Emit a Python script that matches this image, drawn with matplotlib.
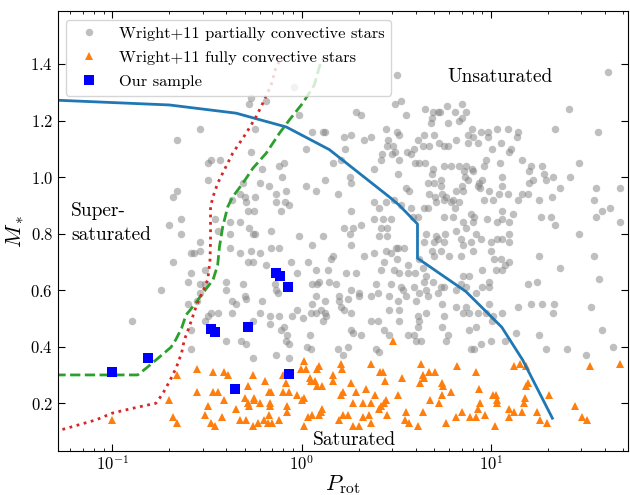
import matplotlib
matplotlib.use('Agg')
import matplotlib.pyplot as plt

plt.rcParams['font.family'] = 'serif'
plt.rcParams['font.serif'] = ['cmr10']
plt.rcParams['mathtext.fontset'] = 'cm'
plt.rcParams['axes.formatter.use_mathtext'] = True
plt.rcParams['axes.unicode_minus'] = False

# Wright+11 partially convective stars (P_rot [d], M_* [Msun])
partial_P = [
    0.915, 0.54, 0.53, 0.65, 0.97, 1.14, 1.05, 0.29, 0.22, 0.54, 0.57, 0.32, 0.33, 0.37, 0.32,
    0.62, 0.76, 0.81, 0.79, 0.49, 0.60, 0.67, 1.05, 1.19, 0.22, 0.21, 0.47, 0.50, 0.57, 0.73,
    0.83, 0.43, 0.51, 0.73, 0.82, 0.86, 0.52, 0.56, 0.78, 0.23, 0.23, 0.20, 0.35, 0.36, 0.42,
    0.47, 0.53, 0.57, 0.55, 0.69, 0.97, 0.42, 0.42, 0.29, 1.14, 0.69, 0.76,
    0.26, 0.27, 0.29, 0.21, 0.26, 0.25, 0.31, 0.29, 0.31, 0.18, 0.29, 0.25, 0.28, 0.127, 0.31,
    0.32, 0.33, 0.36, 0.26, 0.26, 0.40, 0.48, 0.51, 0.55, 0.40, 0.40, 0.43, 0.45, 0.50, 0.51,
    0.49, 0.47, 0.54, 0.60, 0.52, 0.55, 0.65, 0.88, 0.95, 0.72, 0.73, 0.75, 0.86, 0.62, 0.43,
    0.60, 0.68, 0.76, 0.68, 0.55, 0.89, 0.95, 1.02, 1.12, 0.78, 0.81, 0.84, 0.83, 0.86, 1.07,
    0.73, 0.86, 1.14, 1.20, 1.19, 1.08,
    3.17, 41.7, 1.94, 2.06, 3.12, 3.34, 3.55, 4.50, 4.95, 5.23, 5.40, 4.87, 5.85, 6.43, 7.04,
    7.39, 7.04, 6.81, 5.90, 4.80, 25.7, 21.9, 36.8, 13.9, 13.8, 12.3, 10.8, 9.6, 9.7, 8.85,
    7.90, 7.6, 8.0, 7.6, 8.5, 10.1, 11.3, 12.7, 12.5, 1.29, 1.32, 1.67, 1.82, 2.14, 2.33,
    2.79, 2.85, 2.81, 3.17, 3.28, 3.02, 2.66, 2.63, 3.0, 3.12, 3.58, 3.78, 3.94, 4.1, 4.35,
    4.45, 4.68, 5.02, 5.34, 5.67, 5.90, 6.52, 1.70, 1.47, 1.61, 3.28, 2.42, 3.99, 4.18, 4.5,
    4.95, 4.87, 5.67, 6.15, 6.81, 7.39, 7.9, 7.23, 8.0, 9.2, 9.4, 11.1, 14.6, 16.3, 18.6,
    15.9, 19.1, 21.2, 29.0, 1.79, 1.82, 1.32, 3.21, 4.62, 5.02, 5.45, 7.33, 7.6, 8.68, 9.0,
    11.4, 15.8, 16.6, 19.6, 26.1, 1.55, 3.55, 3.7, 5.45, 5.51, 4.72, 5.08, 5.82, 6.27, 6.52,
    7.04, 7.15, 8.5, 8.75, 9.8, 11.07, 12.3, 9.22, 10.2, 11.4, 13.9, 14.6, 15.6, 18.0, 23.2,
    21.0, 35.7, 35.1, 38.5, 42.4, 36.0, 47.9, 47.9, 2.42, 2.57, 2.79, 1.82, 2.42, 2.68, 2.96,
    3.09, 3.35, 3.78, 3.85, 4.14, 4.62, 4.45, 5.12, 5.67, 6.15, 6.45, 6.81, 5.67, 6.27, 7.09,
    7.82, 8.17, 9.57, 10.7, 11.5, 12.5, 11.5, 13.0, 18.4, 20.7, 21.8, 1.68, 1.86, 2.06, 2.63,
    2.84, 2.81, 1.29, 1.79, 2.57, 3.15, 4.55, 5.12, 5.23, 5.74, 6.52, 7.39, 8.0, 6.95, 8.33,
    8.87, 9.99, 10.8, 11.5, 12.5, 12.4, 29.0,
    1.82, 1.46, 1.43, 2.14, 2.42, 2.79, 2.73, 2.96, 3.21, 3.17, 3.49, 4.45, 5.02, 5.67, 4.87,
    5.02, 6.03, 3.63, 4.18, 4.40, 5.45, 6.95, 7.09, 7.82, 8.06, 10.0, 10.4, 11.3, 11.8, 12.4,
    11.5, 9.0, 18.0, 35.1, 23.2, 1.19, 1.37, 1.71, 1.94, 2.63, 3.09, 3.28, 3.63, 3.99, 4.55,
    4.45, 4.91, 7.09, 7.69, 6.95, 10.6, 1.24, 1.40, 1.52, 1.82, 2.02, 2.47, 2.96, 3.35, 3.94,
    4.18, 4.55, 5.45, 5.67, 6.52, 7.39, 8.33, 9.0, 9.8, 9.8, 15.6, 17.6, 37.3, 1.32, 1.14,
    1.58, 1.58, 1.75, 2.02, 2.33, 2.52, 2.90, 3.21, 3.41, 3.55, 4.02, 4.62, 5.23, 5.54, 6.52,
    7.39, 7.09, 7.69, 9.8, 9.4, 8.5, 13.9, 16.3, 18.6, 21.6, 21.3, 33.8, 1.19, 1.27, 1.32,
    1.35, 1.29, 1.61, 1.68, 1.82, 2.33, 2.52, 2.73, 2.90, 3.28, 3.28, 4.10, 4.18, 4.10, 4.55,
    5.67, 5.54, 5.90, 7.69, 8.33, 10.2, 11.5, 11.8, 13.6, 10.0, 10.1, 18.0, 38.7, 1.82, 1.86,
    2.06, 2.90, 3.63, 3.94, 1.10, 1.12, 1.55, 1.75, 1.65, 2.47, 2.57, 4.02, 4.27, 5.78, 7.82,
    8.17, 8.87, 19.6, 25.1, 31.6, 44.3,
]
partial_M = [
    1.32, 1.28, 1.26, 1.27, 1.22, 1.16, 1.10, 1.17, 1.13, 1.09, 1.17, 1.05, 1.06, 1.06, 0.99,
    1.03, 1.04, 1.05, 1.00, 0.98, 0.98, 0.97, 0.97, 0.95, 0.95, 0.93, 0.94, 0.93, 0.93, 0.94,
    0.95, 0.92, 0.91, 0.91, 0.91, 0.90, 0.88, 0.88, 0.88, 0.85, 0.80, 0.83, 0.85, 0.81, 0.84,
    0.84, 0.82, 0.80, 0.80, 0.81, 0.79, 0.80, 0.75, 0.77, 0.76, 0.75, 0.75,
    0.73, 0.73, 0.74, 0.70, 0.66, 0.63, 0.67, 0.62, 0.62, 0.60, 0.59, 0.55, 0.56, 0.49, 0.49,
    0.51, 0.52, 0.52, 0.46, 0.39, 0.42, 0.42, 0.41, 0.36, 0.63, 0.60, 0.56, 0.55, 0.58, 0.57,
    0.62, 0.73, 0.74, 0.73, 0.70, 0.70, 0.69, 0.70, 0.66, 0.62, 0.60, 0.59, 0.61, 0.56, 0.52,
    0.52, 0.51, 0.51, 0.48, 0.49, 0.51, 0.53, 0.50, 0.52, 0.46, 0.47, 0.44, 0.42, 0.41, 0.40,
    0.37, 0.36, 0.62, 0.62, 0.58, 0.70,
    1.36, 1.37, 1.23, 1.22, 1.26, 1.27, 1.22, 1.24, 1.23, 1.23, 1.23, 1.21, 1.25, 1.23, 1.26,
    1.23, 1.21, 1.20, 1.19, 1.19, 1.24, 1.17, 1.16, 1.16, 1.14, 1.17, 1.17, 1.16, 1.14, 1.16,
    1.17, 1.15, 1.14, 1.12, 1.12, 1.10, 1.12, 1.10, 1.09, 1.16, 1.16, 1.14, 1.15, 1.13, 1.14,
    1.17, 1.13, 1.11, 1.16, 1.15, 1.11, 1.08, 1.06, 1.08, 1.09, 1.09, 1.08, 1.10, 1.13, 1.11,
    1.15, 1.11, 1.15, 1.12, 1.11, 1.11, 1.13, 1.10, 1.05, 1.06, 1.06, 1.03, 1.05, 1.05, 1.05,
    1.03, 1.01, 1.04, 1.04, 1.04, 1.04, 1.03, 1.02, 1.02, 1.04, 1.06, 1.05, 1.06, 1.04, 1.04,
    1.02, 1.01, 1.00, 1.05, 1.00, 0.98, 0.99, 1.01, 0.98, 0.98, 0.99, 1.00, 0.99, 0.98, 0.99,
    1.00, 0.98, 0.99, 0.99, 1.00, 0.94, 0.96, 0.95, 0.97, 0.94, 0.94, 0.93, 0.93, 0.92, 0.95,
    0.97, 0.95, 0.97, 0.96, 0.95, 0.94, 0.94, 0.92, 0.92, 0.97, 0.92, 0.94, 0.94, 0.92, 0.96,
    0.93, 0.96, 0.92, 0.88, 0.89, 0.86, 0.96, 0.84, 0.91, 0.89, 0.91, 0.88, 0.85, 0.85, 0.85,
    0.92, 0.90, 0.89, 0.86, 0.86, 0.89, 0.89, 0.91, 0.92, 0.91, 0.89, 0.91, 0.86, 0.86, 0.84,
    0.87, 0.86, 0.85, 0.84, 0.85, 0.84, 0.88, 0.87, 0.86, 0.86, 0.83, 0.82, 0.82, 0.83, 0.82,
    0.82, 0.79, 0.79, 0.80, 0.79, 0.75, 0.80, 0.79, 0.78, 0.80, 0.81, 0.82, 0.84, 0.78, 0.80,
    0.78, 0.77, 0.78, 0.78, 0.77, 0.80, 0.80,
    0.76, 0.72, 0.71, 0.72, 0.73, 0.74, 0.70, 0.73, 0.75, 0.71, 0.75, 0.77, 0.77, 0.77, 0.74,
    0.72, 0.72, 0.69, 0.71, 0.68, 0.74, 0.72, 0.76, 0.77, 0.74, 0.74, 0.71, 0.71, 0.69, 0.70,
    0.67, 0.67, 0.72, 0.72, 0.68, 0.67, 0.67, 0.66, 0.66, 0.67, 0.67, 0.66, 0.66, 0.66, 0.65,
    0.63, 0.63, 0.65, 0.65, 0.62, 0.67, 0.63, 0.63, 0.62, 0.60, 0.59, 0.62, 0.62, 0.61, 0.61,
    0.59, 0.60, 0.61, 0.61, 0.60, 0.61, 0.59, 0.61, 0.63, 0.61, 0.62, 0.63, 0.64, 0.56, 0.55,
    0.58, 0.56, 0.57, 0.58, 0.58, 0.59, 0.58, 0.56, 0.60, 0.58, 0.56, 0.58, 0.59, 0.55, 0.54,
    0.54, 0.52, 0.52, 0.55, 0.52, 0.52, 0.54, 0.55, 0.55, 0.55, 0.52, 0.54, 0.52, 0.53, 0.52,
    0.51, 0.49, 0.54, 0.53, 0.52, 0.49, 0.49, 0.46, 0.53, 0.49, 0.53, 0.51, 0.49, 0.47, 0.52,
    0.51, 0.47, 0.44, 0.46, 0.47, 0.51, 0.52, 0.42, 0.45, 0.42, 0.49, 0.44, 0.46, 0.46, 0.45,
    0.44, 0.44, 0.44, 0.44, 0.44, 0.39, 0.39, 0.40, 0.37, 0.39, 0.38, 0.42, 0.42, 0.42, 0.39,
    0.39, 0.41, 0.39, 0.39, 0.37, 0.40,
]

# Wright+11 fully convective stars
full_P = [
    0.10, 0.20, 0.21, 0.22, 0.22, 0.28, 0.28, 0.32, 0.31, 0.34, 0.34, 0.36, 0.33, 0.35, 0.39,
    0.41, 0.39, 0.38, 0.45, 0.47, 0.51, 0.55, 0.52, 0.50, 0.52, 0.53, 0.55, 0.56, 0.56, 0.60,
    0.59, 0.64, 0.63, 0.66, 0.67, 0.68, 0.68, 0.67, 0.69, 0.70, 0.76, 0.80, 0.83, 0.80, 0.86,
    0.84, 0.84, 0.95, 1.01, 1.03, 0.99, 1.03, 1.05, 1.12, 1.17, 1.08, 1.03, 1.14, 1.21, 1.21,
    3.05, 1.24, 1.61, 1.64, 2.31, 1.10, 1.47, 1.46, 1.28, 1.82, 2.59, 2.68, 2.76, 3.38, 4.27,
    4.35, 4.45, 4.72, 5.08, 4.22, 6.60, 8.33, 5.54, 5.58, 5.51, 6.15, 8.6, 8.5, 1.65, 1.61,
    1.94, 2.19, 2.45, 3.21, 2.79, 2.73, 1.86, 2.10, 2.33, 2.57, 2.63, 4.77, 5.34, 4.35, 10.2,
    10.6, 10.8, 10.7, 8.8, 15.3, 15.6, 15.2, 15.0, 13.3, 14.2, 15.3, 20.2, 33.3, 47.9, 27.9,
    1.28, 1.27, 1.24, 1.58, 1.65, 1.75, 1.86, 2.02, 2.10, 2.26, 2.33, 2.84, 3.55, 3.52, 3.70,
    4.10, 5.82, 6.52, 7.04, 7.74, 8.33, 9.3, 10.5, 12.5, 12.4, 13.3, 14.6, 17.6, 18.1, 19.7,
    30.1, 32.2,
]
full_M = [
    0.14, 0.21, 0.15, 0.13, 0.30, 0.32, 0.24, 0.19, 0.16, 0.31, 0.24, 0.24, 0.13, 0.12, 0.31,
    0.30, 0.21, 0.15, 0.18, 0.14, 0.14, 0.12, 0.26, 0.22, 0.20, 0.19, 0.30, 0.22, 0.21, 0.20,
    0.13, 0.28, 0.14, 0.13, 0.24, 0.20, 0.19, 0.16, 0.24, 0.13, 0.14, 0.30, 0.27, 0.24, 0.24,
    0.19, 0.17, 0.23, 0.21, 0.22, 0.32, 0.35, 0.32, 0.28, 0.28, 0.15, 0.12, 0.16, 0.32, 0.26,
    0.42, 0.33, 0.34, 0.32, 0.34, 0.29, 0.30, 0.28, 0.26, 0.27, 0.31, 0.31, 0.28, 0.29, 0.34,
    0.30, 0.29, 0.31, 0.31, 0.27, 0.33, 0.31, 0.27, 0.26, 0.23, 0.24, 0.25, 0.18, 0.24, 0.23,
    0.24, 0.25, 0.23, 0.23, 0.21, 0.20, 0.20, 0.20, 0.20, 0.18, 0.19, 0.21, 0.20, 0.17, 0.23,
    0.23, 0.21, 0.20, 0.20, 0.26, 0.27, 0.22, 0.20, 0.33, 0.34, 0.33, 0.23, 0.33, 0.34, 0.19,
    0.18, 0.17, 0.16, 0.14, 0.16, 0.16, 0.12, 0.12, 0.15, 0.16, 0.13, 0.16, 0.17, 0.14, 0.13,
    0.12, 0.13, 0.15, 0.17, 0.15, 0.15, 0.16, 0.12, 0.18, 0.15, 0.17, 0.17, 0.17, 0.14, 0.13,
    0.15, 0.14,
]

# Our sample
sample_P = [0.10, 0.154, 0.33, 0.35, 0.519, 0.447, 0.733, 0.772, 0.845, 0.861]
sample_M = [0.31, 0.361, 0.462, 0.451, 0.471, 0.25, 0.66, 0.65, 0.612, 0.303]

# saturation boundaries
unsat_P = [0.05, 0.2, 0.45, 0.83, 1.40, 2.9, 3.28, 4.09, 4.09, 7.37, 11.4, 14.7, 21.1]
unsat_M = [1.272, 1.255, 1.226, 1.177, 1.097, 0.93, 0.90, 0.834, 0.713, 0.595, 0.469, 0.353, 0.147]

green_P = [0.05, 0.136, 0.151, 0.170, 0.204, 0.216, 0.232, 0.245, 0.271, 0.30, 0.34, 0.36,
           0.368, 0.383, 0.407, 0.432, 0.489, 0.552, 0.649, 0.763, 0.861, 1.012, 1.167, 1.24, 1.30]
green_M = [0.30, 0.30, 0.324, 0.353, 0.398, 0.424, 0.465, 0.512, 0.548, 0.589, 0.636, 0.689,
           0.754, 0.825, 0.895, 0.93, 0.978, 1.031, 1.084, 1.155, 1.202, 1.261, 1.326, 1.39, 1.42]

red_P = [0.05, 0.082, 0.10, 0.128, 0.170, 0.185, 0.20, 0.217, 0.232, 0.24, 0.255, 0.277, 0.30,
         0.319, 0.328, 0.33, 0.33, 0.34, 0.36, 0.39, 0.432, 0.509, 0.574, 0.623, 0.69, 0.733, 0.79]
red_M = [0.10, 0.141, 0.165, 0.182, 0.20, 0.235, 0.276, 0.324, 0.377, 0.424, 0.471, 0.542, 0.595,
         0.636, 0.707, 0.778, 0.895, 0.93, 0.978, 1.025, 1.084, 1.155, 1.213, 1.261, 1.326, 1.39, 1.425]

fig, ax = plt.subplots(figsize=(6.3, 4.95), dpi=100)
fig.subplots_adjust(left=0.092, right=0.997, bottom=0.0895, top=0.977)

ax.plot(partial_P, partial_M, 'o', color='gray', alpha=0.5, ms=5.4, mew=0,
        label='Wright+11 partially convective stars')
ax.plot(full_P, full_M, '^', color='C1', ms=6, mew=0,
        label='Wright+11 fully convective stars')
ax.plot(unsat_P, unsat_M, '-', color='C0', lw=2)
ax.plot(green_P, green_M, '--', color='C2', lw=2)
ax.plot(red_P, red_M, ':', color='C3', lw=2)
ax.plot(sample_P, sample_M, 's', color='blue', ms=6.5, mew=0, label='Our sample')

ax.set_xscale('log')
ax.set_xlim(0.0516, 53.0)
ax.set_ylim(0.032, 1.586)
ax.set_yticks([0.2, 0.4, 0.6, 0.8, 1.0, 1.2, 1.4])
ax.tick_params(which='both', direction='in', top=True, right=True, labelsize=12)
ax.tick_params(which='major', length=5)
ax.tick_params(which='minor', length=2.5)
ax.tick_params(axis='x', pad=2.5)

ax.set_xlabel(r'$P_{\rm rot}$', fontsize=16, labelpad=0)
ax.set_ylabel(r'$M_*$', fontsize=16, labelpad=3)

ax.text(5.9, 1.335, 'Unsaturated', fontsize=14)
ax.text(1.14, 0.053, 'Saturated', fontsize=14)
ax.text(0.0607, 0.778, 'Super-\nsaturated', fontsize=14, linespacing=1.4)

ax.legend(loc='upper left', fontsize=11.8, labelspacing=0.6)

fig.savefig('out.png', dpi=100)
